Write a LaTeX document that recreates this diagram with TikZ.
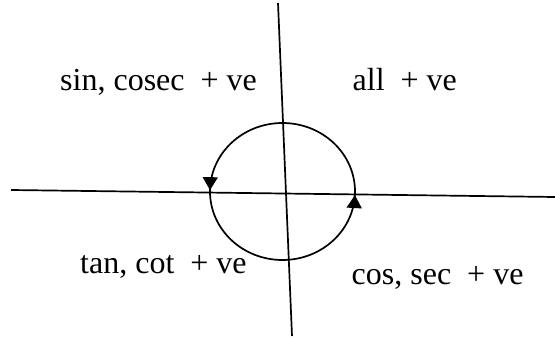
\documentclass[tikz,border=0pt]{standalone}
\usepackage{fontspec}
\setmainfont{Liberation Serif}
\usetikzlibrary{arrows.meta, decorations.markings}

\begin{document}
\begin{tikzpicture}[x=1pt,y=-1pt,font=\fontsize{32}{38}\selectfont,
    quadlabel/.style={anchor=base west,inner sep=0pt},
    axisline/.style={line width=1.7pt},
    sense/.tip={Triangle[width=15pt,length=13pt]}]
  \useasboundingbox (0,0) rectangle (555,340);

  % axes
  \coordinate (xl) at (11,190);
  \coordinate (xr) at (555,197);
  \coordinate (yt) at (278,3);
  \coordinate (yb) at (292,336);
  \draw[axisline] (xl) -- (xr);
  \draw[axisline] (yt) -- (yb);

  % circle with direction marks
  \coordinate (o) at (282.5,191.5);
  \draw[axisline,postaction={decorate},decoration={markings,
      mark=at position 0.008 with {\arrowreversed{sense}},
      mark=at position 0.503 with {\arrowreversed{sense}}}]
    (o) ellipse [x radius=72.5,y radius=68.5];

  % quadrant labels
  \node[quadlabel] (q2) at (60,90) {sin, cosec\ \ + ve};
  \node[quadlabel] (q1) at (352.5,90.7) {all\ \ + ve};
  \node[quadlabel] (q3) at (80,273) {tan, cot\ \ + ve};
  \node[quadlabel] (q4) at (351.5,284.3) {cos, sec\ \ + ve};
\end{tikzpicture}
\end{document}
